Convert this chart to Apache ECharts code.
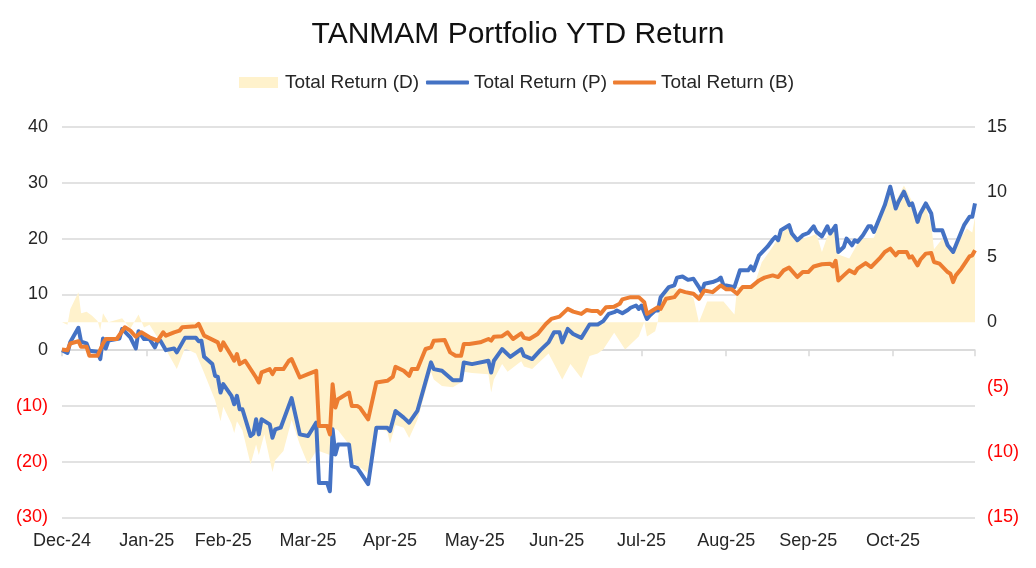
<!DOCTYPE html>
<html>
<head>
<meta charset="utf-8">
<title>TANMAM Portfolio YTD Return</title>
<script src="https://cdn.jsdelivr.net/npm/echarts@6.0.0/dist/echarts.min.js"></script>
<style>
  html, body { margin: 0; padding: 0; background: #fff; }
  #chart { width: 1036px; height: 568px; }
</style>
</head>
<body>
<div id="chart"></div>
<script>
// x values are calendar days counted from 2024-12-31
const monthEndDays = [0, 31, 59, 90, 120, 151, 181, 212, 243, 273, 304, 334];
const monthNames = ['Jan', 'Feb', 'Mar', 'Apr', 'May', 'Jun', 'Jul', 'Aug', 'Sep', 'Oct', 'Nov', 'Dec'];

// Total Return (P) - left axis
const pDays = [0, 2, 3, 6, 7, 9, 10, 13, 14, 15, 16, 17, 21, 22, 25, 27, 28, 30, 32, 34, 35, 36, 38, 41, 42, 45, 49, 50, 51, 52,
  55, 56, 57, 58, 59, 62, 63, 64, 65, 66, 69, 70, 71, 72, 73, 76, 77, 78, 80, 84, 87, 90, 93, 94, 97, 98, 99, 100, 101, 105,
  106, 108, 112, 115, 119, 120, 122, 125, 127, 130, 135, 136, 139, 143, 146, 147, 150, 156, 157, 158, 161, 164, 168, 169, 172, 175, 178, 180, 182, 183,
  185, 187, 190, 192, 193, 196, 198, 200, 202, 203, 205, 207, 208, 210, 211, 212, 214, 215, 217, 218, 219, 222, 224, 225, 227, 229, 231, 233, 234, 235,
  238, 240, 241, 242, 243, 246, 248, 251, 252, 253, 255, 258, 260, 261, 262, 263, 266, 267, 269, 271, 273, 275, 276, 278, 280, 281, 283, 284, 286, 287,
  289, 290, 291, 293, 295, 296, 297, 299, 301, 303, 305, 306, 308, 310, 311, 313, 314, 316, 318, 319, 322, 324, 326, 327, 330, 332, 333, 334];
const pVals = [0, -0.5, 1.4, 4.0, 1.5, 1.2, -0.1, -0.3, -1.6, 2.1, 0.3, 1.7, 2.1, 3.8, 2.3, 0.3, 3.4, 2.0, 2.0, 0.5, 1.7, 1.7, 0, 0.3, -0.4, 2.2, 2.2, 1.6, 1.7, -1.2,
  -2.5, -4.6, -4.8, -7.6, -6.1, -8.2, -9.7, -8.2, -10.6, -10.6, -15.4, -15.0, -12.4, -15.1, -12.4, -13.3, -15.7, -14.2, -13.9, -8.6, -15.1, -15.4, -13.0, -23.8, -23.8, -25.3, -14.2, -18.7, -16.9, -16.9,
  -20.8, -21.1, -24.0, -13.9, -13.9, -14.5, -10.9, -12.1, -13.0, -10.9, -2.2, -3.4, -3.7, -5.4, -5.4, -2.2, -2.5, -1.9, -4.0, -1.9, 0.2, -1.2, 0.2, -1.0, -1.6, 0, 1.4, 3.2, 3.2, 1.4,
  3.8, 2.9, 2.2, 3.8, 4.6, 4.6, 5.2, 6.5, 6.8, 7.1, 6.6, 7.2, 7.6, 8.0, 7.4, 8.0, 5.6, 6.2, 7.1, 7.1, 9.5, 11.3, 11.6, 13.0, 13.2, 12.6, 12.8, 11.3, 10.4, 11.9,
  12.2, 12.6, 13.0, 11.6, 11.6, 11.3, 14.3, 14.3, 15.0, 14.3, 17.0, 18.5, 19.8, 20.3, 19.7, 21.5, 22.4, 20.9, 19.7, 20.6, 21.0, 22.2, 21.2, 20.4, 22.2, 20.9, 22.3, 17.6, 18.5, 20.0,
  18.8, 19.7, 19.4, 20.6, 22.2, 22.2, 21.2, 23.6, 26.0, 29.3, 25.4, 26.6, 28.4, 26.0, 26.3, 23.0, 24.5, 26.3, 24.5, 21.5, 21.5, 18.8, 17.6, 18.8, 22.4, 23.9, 23.9, 26.3];

// Total Return (B) - left axis
const bDays = [0, 2, 3, 6, 7, 9, 10, 13, 15, 16, 20, 23, 25, 27, 29, 32, 35, 37, 38, 41, 43, 44, 49, 50, 52, 57, 58, 59, 62, 63,
  64, 65, 67, 71, 72, 73, 76, 77, 78, 81, 83, 84, 87, 90, 93, 94, 97, 98, 99, 100, 101, 105, 106, 108, 109, 112, 115, 119, 121, 122,
  125, 127, 128, 130, 133, 135, 136, 140, 142, 144, 146, 147, 149, 153, 156, 157, 158, 161, 163, 165, 168, 169, 171, 174, 177, 179, 182, 185, 187, 190,
  192, 194, 196, 197, 199, 202, 204, 205, 208, 211, 213, 214, 216, 218, 219, 221, 224, 226, 228, 231, 233, 235, 238, 241, 243, 245, 247, 249, 252, 255,
  257, 260, 262, 264, 266, 269, 271, 273, 275, 278, 281, 282, 283, 284, 286, 288, 290, 291, 294, 296, 299, 301, 303, 305, 306, 309, 310, 311, 313, 314,
  316, 318, 319, 321, 324, 325, 326, 327, 329, 332, 333, 334];
const bVals = [0.1, 0.0, 1.2, 1.6, 0.6, 0.6, -1.0, -1.0, 1.2, 2.0, 2.0, 4.1, 3.5, 2.4, 3.2, 2.3, 1.7, 3.2, 2.6, 3.2, 3.5, 4.1, 4.3, 4.7, 2.6, 1.4, 0, 1.4, -1.0, -1.9,
  -0.7, -2.5, -1.9, -4.9, -5.8, -4.0, -3.4, -4.3, -3.4, -3.4, -1.9, -1.6, -4.9, -4.3, -3.7, -13.6, -13.6, -15.1, -6.1, -10.3, -8.8, -7.6, -10.0, -10.0, -10.3, -12.4, -5.8, -5.5, -4.8, -3.0,
  -3.7, -4.6, -3.4, -3.4, 0.2, 0.5, 1.7, 1.8, -0.4, -1.0, -1.0, 1.1, 1.1, 1.4, 2.0, 1.7, 2.4, 2.5, 3.2, 2.0, 3.0, 2.2, 2.0, 2.9, 4.7, 5.6, 6.0, 7.4, 6.9, 6.5,
  7.2, 7.0, 7.0, 6.5, 7.7, 7.8, 8.3, 9.1, 9.5, 9.5, 8.6, 6.5, 7.1, 7.7, 7.4, 9.2, 9.5, 10.7, 10.4, 10.1, 9.2, 10.7, 10.4, 11.6, 10.9, 10.9, 10.1, 11.3, 11.3, 12.5,
  13.0, 13.4, 13.1, 14.3, 14.8, 13.1, 14.0, 14.0, 15.0, 15.4, 15.5, 15.0, 16.0, 12.5, 13.4, 14.3, 13.8, 14.6, 15.6, 14.9, 16.4, 17.6, 18.2, 17.0, 17.6, 17.6, 16.6, 16.8, 15.2, 16.2,
  17.3, 17.4, 15.8, 15.5, 14.0, 13.7, 12.2, 13.4, 14.6, 16.8, 17.0, 17.9];

// Total Return (D) - right axis
const dDays = [0, 2, 3, 6, 7, 9, 11, 13, 14, 15, 17, 22, 25, 28, 30, 32, 35, 38, 42, 45, 49, 52, 56, 58, 59, 62, 63, 64, 66, 69,
  71, 72, 74, 77, 78, 81, 84, 87, 90, 93, 94, 98, 99, 101, 105, 106, 108, 112, 115, 119, 120, 122, 125, 127, 130, 133, 135, 136, 139, 143,
  146, 147, 150, 156, 157, 158, 161, 163, 168, 169, 172, 178, 183, 186, 190, 193, 196, 198, 202, 206, 211, 213, 214, 217, 218, 219, 223, 227, 231, 233,
  236, 242, 246, 247, 253, 256, 260, 263, 266, 269, 274, 276, 278, 280, 283, 284, 288, 292, 297, 300, 303, 305, 308, 311, 313, 316, 318, 319, 322, 326,
  331, 333, 334];
const dVals = [0, -0.2, 1.0, 2.3, 0.7, 0.8, 0.5, 0.1, -0.6, 0.7, 0.0, 0.3, -0.5, 0.6, -0.4, -0.2, -1.2, -2.1, -3.6, -2.0, -2.4, -3.9, -6.0, -7.6, -6.5, -7.8, -8.5, -7.6, -8.3, -10.9,
  -9.4, -10.2, -8.6, -11.5, -10.6, -9.9, -7.5, -9.4, -10.9, -9.9, -9.9, -10.2, -8.1, -8.3, -9.4, -10.8, -11.0, -11.6, -8.1, -8.4, -9.3, -7.9, -8.1, -8.9, -7.5, -5.3, -3.8, -4.4, -4.9, -5.0,
  -4.6, -3.8, -3.9, -4.0, -5.4, -4.4, -3.2, -3.8, -3.0, -3.4, -3.6, -2.4, -4.4, -3.2, -4.3, -2.6, -2.4, -2.1, -0.8, -2.1, -1.1, 0, -1.1, -0.7, 0.1, 2.2, 2.7, 2.3, 1.9, 0,
  1.6, 1.6, 0.6, 2.7, 2.7, 4.6, 5.8, 6.8, 7.3, 6.3, 6.6, 6.8, 5.4, 6.6, 7.2, 5.2, 4.9, 6.4, 6.5, 8.1, 10.6, 9.3, 10.5, 9.3, 8.1, 8.8, 7.5, 5.6, 6.4, 5.6,
  7.2, 6.9, 8.1];

const DAY_MS = 86400000;
const START = Date.UTC(2024, 11, 31);
const pairs = (days, vals) => days.map((d, i) => [d, vals[i]]);

const FONT = '"Liberation Sans", Arial, sans-serif';
const TEXT = '#262626';
const GRID_LINE = '#d9d9d9';

const fmtNum = (v) => (v < 0 ? '(' + Math.abs(v) + ')' : String(v));
const colNum = (v) => (Number(v) < 0 ? '#ff0000' : TEXT);
const fmtMonth = (day) => {
  const d = new Date(START + Math.round(Number(day)) * DAY_MS);
  return monthNames[d.getUTCMonth()] + '-' + String(d.getUTCFullYear()).slice(2);
};

const chart = echarts.init(document.getElementById('chart'), null, { renderer: 'canvas' });

chart.setOption({
  animation: false,
  backgroundColor: '#ffffff',
  textStyle: { fontFamily: FONT },
  title: {
    text: 'TANMAM Portfolio YTD Return',
    left: 'center',
    top: 15,
    textStyle: { fontFamily: FONT, fontSize: 30, fontWeight: 'normal', color: '#111' }
  },
  legend: [
    {
      data: ['Total Return (D)'],
      left: 239,
      top: 73,
      padding: 0,
      icon: 'rect',
      itemWidth: 39,
      itemHeight: 11,
      textStyle: { fontFamily: FONT, fontSize: 19, color: TEXT, padding: [0, 0, 0, 2] }
    },
    {
      data: ['Total Return (P)', 'Total Return (B)'],
      left: 426,
      top: 73,
      padding: 0,
      icon: 'roundRect',
      itemWidth: 43,
      itemHeight: 4,
      itemGap: 6,
      textStyle: { fontFamily: FONT, fontSize: 19, color: TEXT }
    }
  ],
  grid: {
    left: 62,
    right: 61,
    top: 127,
    bottom: 50.5,
    containLabel: false,
    outerBoundsMode: 'none'
  },
  xAxis: [
    {
      // date labels along the bottom edge
      type: 'value',
      position: 'bottom',
      min: 0,
      max: 334,
      axisLine: { show: false, onZero: false },
      axisTick: { show: false },
      axisLabel: {
        customValues: monthEndDays.slice(0, -1),
        formatter: fmtMonth,
        margin: 15,
        fontFamily: FONT,
        fontSize: 18,
        color: TEXT
      },
      splitLine: { show: false }
    },
    {
      // category line sitting on the zero of the left axis
      type: 'value',
      position: 'top',
      min: 0,
      max: 334,
      axisLine: { show: true, onZero: true, onZeroAxisIndex: 0, lineStyle: { color: GRID_LINE, width: 1.5 } },
      axisTick: {
        show: true,
        inside: true,
        length: 6,
        customValues: monthEndDays,
        lineStyle: { color: GRID_LINE, width: 1.5 }
      },
      axisLabel: { show: false },
      splitLine: { show: false }
    }
  ],
  yAxis: [
    {
      type: 'value',
      position: 'left',
      min: -30,
      max: 40,
      interval: 10,
      axisLine: { show: false },
      axisTick: { show: false },
      axisLabel: { formatter: fmtNum, color: colNum, margin: 14, fontFamily: FONT, fontSize: 18 },
      splitLine: { show: true, lineStyle: { color: GRID_LINE, width: 1.5 } }
    },
    {
      type: 'value',
      position: 'right',
      min: -15,
      max: 15,
      interval: 5,
      axisLine: { show: false },
      axisTick: { show: false },
      axisLabel: { formatter: fmtNum, color: colNum, margin: 12, fontFamily: FONT, fontSize: 18 },
      splitLine: { show: false }
    }
  ],
  series: [
    {
      name: 'Total Return (D)',
      type: 'line',
      xAxisIndex: 0,
      yAxisIndex: 1,
      data: pairs(dDays, dVals),
      symbol: 'none',
      color: '#FFF2CC',
      lineStyle: { width: 0, color: '#FFF2CC' },
      areaStyle: { color: '#FFF2CC', opacity: 1 },
      z: 1
    },
    {
      name: 'Total Return (P)',
      type: 'line',
      xAxisIndex: 0,
      yAxisIndex: 0,
      data: pairs(pDays, pVals),
      symbol: 'none',
      color: '#4472C4',
      lineStyle: { width: 4, color: '#4472C4', join: 'round' },
      z: 3
    },
    {
      name: 'Total Return (B)',
      type: 'line',
      xAxisIndex: 0,
      yAxisIndex: 0,
      data: pairs(bDays, bVals),
      symbol: 'none',
      color: '#ED7D31',
      lineStyle: { width: 4, color: '#ED7D31', join: 'round' },
      z: 4
    }
  ]
});
</script>
</body>
</html>
